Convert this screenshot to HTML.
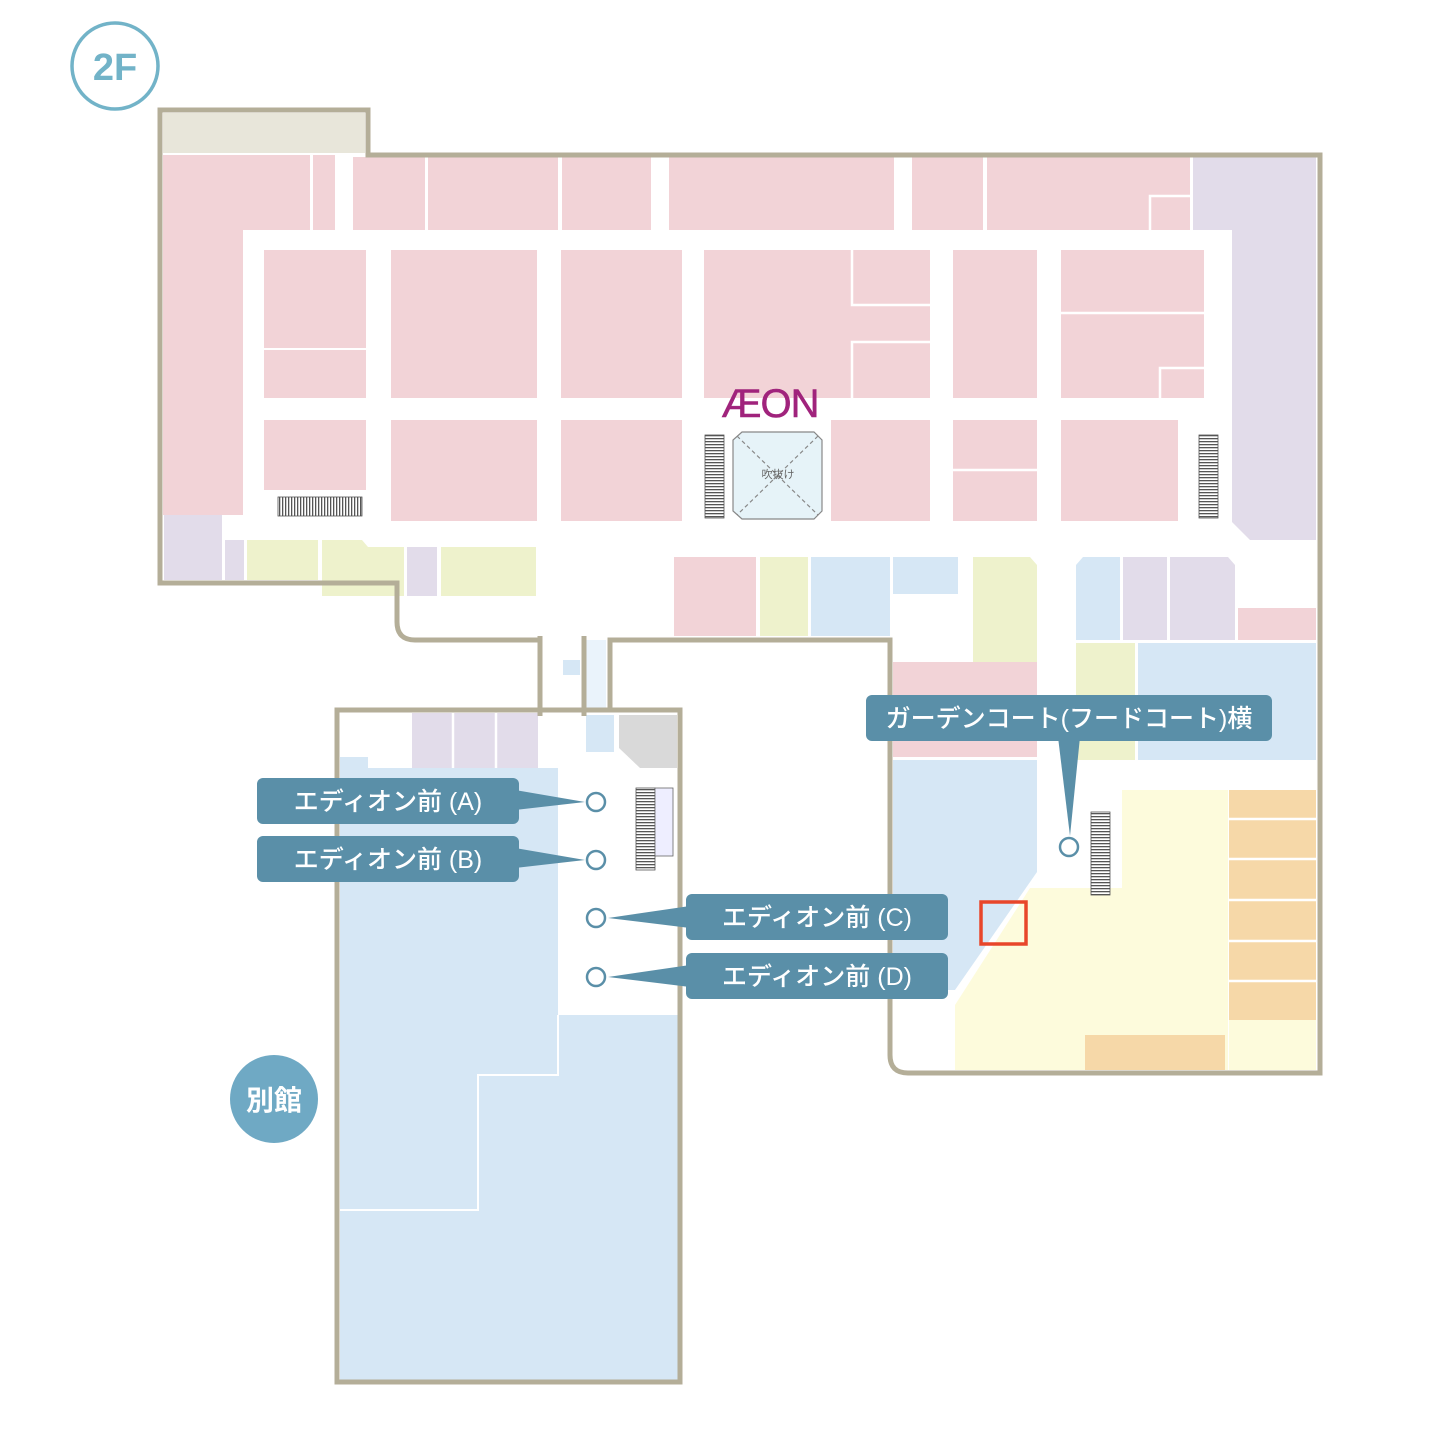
<!DOCTYPE html>
<html><head><meta charset="utf-8"><style>
html,body{margin:0;padding:0;background:#fff;}
svg{display:block;}
text{font-family:"Liberation Sans","Noto Sans CJK JP",sans-serif;}
</style></head><body>
<svg width="1456" height="1456" viewBox="0 0 1456 1456" xmlns="http://www.w3.org/2000/svg">
<defs>
<pattern id="esc" width="3" height="3" patternUnits="userSpaceOnUse"><rect width="3" height="3" fill="#fff"/><rect width="3" height="1.3" fill="#555"/></pattern>
<pattern id="escv" width="3" height="3" patternUnits="userSpaceOnUse"><rect width="3" height="3" fill="#fff"/><rect width="1.3" height="3" fill="#555"/></pattern>
</defs>
<circle cx="115" cy="66" r="43" fill="#fff" stroke="#72b3c8" stroke-width="3.5"/>
<text x="115" y="80" font-size="38" font-weight="bold" fill="#72b3c8" text-anchor="middle">2F</text>

<g fill="#f2d3d7">
<rect x="163" y="155" width="147" height="75"/>
<rect x="163" y="155" width="80" height="360"/>
<rect x="313" y="155" width="22" height="75"/>
<rect x="353" y="157" width="72" height="73"/>
<rect x="428" y="157" width="130" height="73"/>
<rect x="562" y="157" width="89" height="73"/>
<rect x="669" y="157" width="225" height="73"/>
<rect x="912" y="157" width="71" height="73"/>
<rect x="987" y="157" width="203" height="73"/>
<rect x="264" y="250" width="102" height="98"/>
<rect x="264" y="350" width="102" height="48"/>
<rect x="391" y="250" width="146" height="148"/>
<rect x="561" y="250" width="121" height="148"/>
<rect x="704" y="250" width="226" height="148"/>
<rect x="953" y="250" width="84" height="148"/>
<rect x="1061" y="250" width="143" height="148"/>
<rect x="264" y="420" width="102" height="70"/>
<rect x="391" y="420" width="146" height="101"/>
<rect x="561" y="420" width="121" height="101"/>
<rect x="831" y="420" width="99" height="101"/>
<rect x="953" y="420" width="84" height="101"/>
<rect x="1061" y="420" width="117" height="101"/>
<rect x="674" y="557" width="82" height="79"/>
<rect x="1238" y="608" width="78" height="32"/>
<rect x="893" y="662" width="144" height="95"/>
</g>
<rect x="163" y="113" width="202" height="40" fill="#e8e6da"/>
<g stroke="#fff" stroke-width="2.5" fill="none">
<path d="M852 250 V305 H930"/>
<path d="M852 398 V342 H930"/>
<path d="M1061 313 H1204"/>
<path d="M1160 398 V368 H1204"/>
<path d="M1150 230 V196 H1190"/>
<path d="M953 470 H1037"/>
</g>
<path d="M1193 157 H1316 V540 H1250 L1232 522 V230 H1193 Z" fill="#e2dcea"/>
<rect x="164" y="515" width="58" height="65" fill="#e2dcea"/>
<rect x="225" y="540" width="19" height="40" fill="#e2dcea"/>
<rect x="247" y="540" width="71" height="40" fill="#eef2cc"/>
<path d="M322 540 H362 L368 547 H404 V596 H322 Z" fill="#eef2cc"/>
<rect x="407" y="547" width="30" height="49" fill="#e2dcea"/>
<rect x="441" y="547" width="95" height="49" fill="#eef2cc"/>
<rect x="760" y="557" width="48" height="79" fill="#eef2cc"/>
<rect x="811" y="557" width="79" height="79" fill="#d6e7f5"/>
<rect x="893" y="557" width="65" height="37" fill="#d6e7f5"/>
<path d="M973 557 H1030 L1037 565 V662 H973 Z" fill="#eef2cc"/>
<path d="M1076 565 L1083 557 H1120 V640 H1076 Z" fill="#d6e7f5"/>
<rect x="1123" y="557" width="44" height="83" fill="#e2dcea"/>
<path d="M1170 557 H1228 L1235 565 V640 H1170 Z" fill="#e2dcea"/>
<rect x="1076" y="643" width="59" height="117" fill="#eef2cc"/>
<rect x="1138" y="643" width="178" height="117" fill="#d6e7f5"/>
<path d="M893 760 H1037 V872 L955 990 H893 Z" fill="#d6e7f5"/>
<path d="M1122 790 H1228 V1070 H955 V1005 L1030 888 H1122 Z" fill="#fdfbdc"/>
<rect x="1229" y="790" width="87" height="230" fill="#f6d8a8"/>
<rect x="1229" y="1020" width="87" height="50" fill="#fdfbdc"/>
<g stroke="#fff" stroke-width="2.5">
<line x1="1229" y1="819" x2="1316" y2="819"/>
<line x1="1229" y1="859" x2="1316" y2="859"/>
<line x1="1229" y1="900" x2="1316" y2="900"/>
<line x1="1229" y1="941" x2="1316" y2="941"/>
<line x1="1229" y1="981" x2="1316" y2="981"/>
</g>
<rect x="1085" y="1035" width="140" height="35" fill="#f6d8a8"/>
<rect x="981" y="902" width="45" height="42" fill="none" stroke="#e8462a" stroke-width="3.5"/>

<path d="M742 432 H814 L822 440 V511 L814 519 H742 L733 511 V440 Z" fill="#e6f3f8" stroke="#888" stroke-width="1.2"/>
<g stroke="#888" stroke-width="1.2" stroke-dasharray="4 3"><line x1="737" y1="436" x2="818" y2="515"/><line x1="818" y1="436" x2="737" y2="515"/></g>
<text x="778" y="478" font-size="11" fill="#666" text-anchor="middle">吹抜け</text>
<text x="770" y="417" font-size="40" fill="#a0237c" text-anchor="middle" stroke="#a0237c" stroke-width="0.5" letter-spacing="-1">ÆON</text>

<rect x="278" y="497" width="84" height="19" fill="url(#escv)" stroke="#555" stroke-width="0.8"/>
<rect x="705" y="435" width="19" height="83" fill="url(#esc)" stroke="#555" stroke-width="0.8"/>
<rect x="1199" y="435" width="19" height="83" fill="url(#esc)" stroke="#555" stroke-width="0.8"/>
<rect x="636" y="788" width="19" height="82" fill="url(#esc)" stroke="#555" stroke-width="0.8"/>
<rect x="655" y="788" width="18" height="68" fill="#eef" stroke="#666" stroke-width="0.8"/>
<rect x="1091" y="812" width="19" height="83" fill="url(#esc)" stroke="#555" stroke-width="0.8"/>

<rect x="412" y="713" width="126" height="55" fill="#e2dcea"/>
<g stroke="#fff" stroke-width="2.5"><line x1="453" y1="713" x2="453" y2="768"/><line x1="496" y1="713" x2="496" y2="768"/></g>
<path d="M340 757 H368 V768 H558 V1015 H678 V1380 H340 Z" fill="#d6e7f5"/>
<path d="M558 1015 V1075 H478 V1210 H340" fill="none" stroke="#fff" stroke-width="2"/>
<rect x="586" y="715" width="28" height="37" fill="#d6e7f5"/>
<path d="M619 715 H677 V768 H640 L619 748 Z" fill="#d9d9d9"/>
<rect x="563" y="660" width="17" height="15" fill="#d6e7f5"/>
<rect x="586" y="640" width="20" height="72" fill="#eaf3fb"/>

<g fill="none" stroke="#b4ae98" stroke-width="5" stroke-linejoin="miter">
<path d="M540 640 H415 Q397 640 397 622 V583 H160 V110 H368 V155 H1320 V1073 H908 Q890 1073 890 1055 V640 H610 V712"/>
<rect x="337" y="710" width="343" height="672"/>
<line x1="540" y1="636" x2="540" y2="716"/>
<line x1="584" y1="636" x2="584" y2="716"/>
</g>

<g fill="#5a8fa8">
<rect x="257" y="778" width="262" height="46" rx="6"/>
<polygon points="515,790 515,810 585,802"/>
<rect x="257" y="836" width="262" height="46" rx="6"/>
<polygon points="515,848 515,868 585,860"/>
<rect x="686" y="894" width="262" height="46" rx="6"/>
<polygon points="690,906 690,928 608,918"/>
<rect x="686" y="953" width="262" height="46" rx="6"/>
<polygon points="690,965 690,987 608,977"/>
<rect x="866" y="695" width="406" height="46" rx="6"/>
<polygon points="1058,737 1080,737 1070,836"/>
</g>
<g fill="#fff" stroke="#5a8fa8" stroke-width="2.5">
<circle cx="596" cy="802" r="9"/><circle cx="596" cy="860" r="9"/><circle cx="596" cy="918" r="9"/><circle cx="596" cy="977" r="9"/><circle cx="1069" cy="847" r="9"/>
</g>
<g fill="#fff" font-size="25" text-anchor="middle" font-weight="500">
<text x="388" y="810">エディオン前 (A)</text>
<text x="388" y="868">エディオン前 (B)</text>
<text x="817" y="926">エディオン前 (C)</text>
<text x="817" y="985">エディオン前 (D)</text>
<text x="1069" y="727">ガーデンコート(フードコート)横</text>
</g>

<circle cx="274" cy="1099" r="44" fill="#6fa9c4"/>
<text x="274" y="1110" font-size="28" font-weight="bold" fill="#fff" text-anchor="middle">別館</text>
</svg>
</body></html>
